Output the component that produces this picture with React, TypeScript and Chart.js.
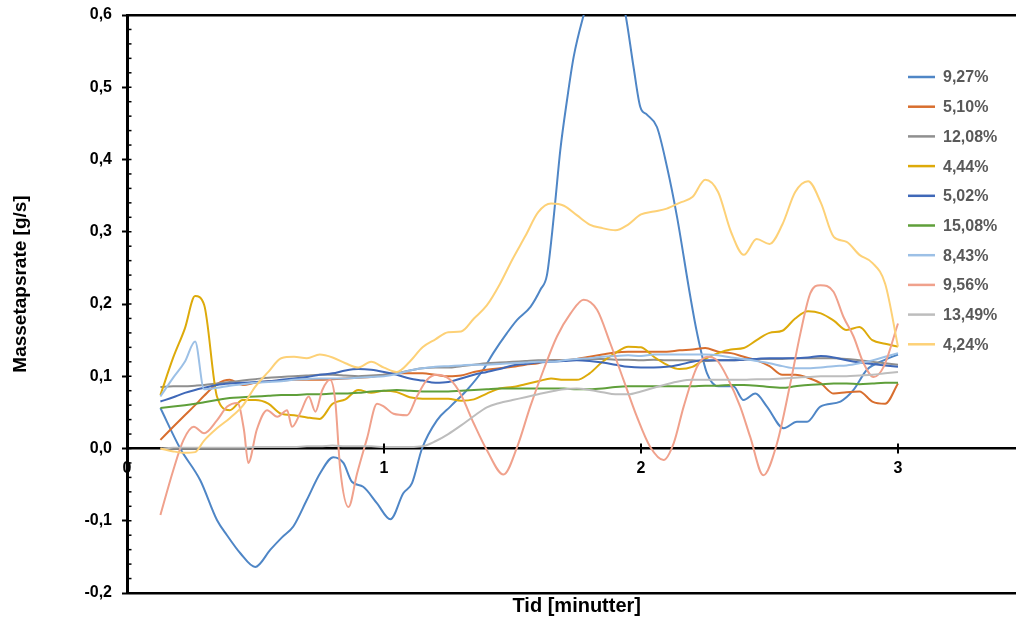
import React, { useEffect, useRef } from 'react';
import { Chart, registerables } from 'chart.js';

Chart.register(...registerables);

const FONT = "'Liberation Sans', Arial, Helvetica, sans-serif";

// shared time grid (minutes)
const TIME = [
  0.13, 0.18, 0.225, 0.265, 0.3, 0.35, 0.4, 0.45, 0.5, 0.55, 0.6,
  0.65, 0.7, 0.75, 0.8, 0.85, 0.9, 0.95, 1.0, 1.05, 1.1,
  1.15, 1.2, 1.25, 1.3, 1.35, 1.4, 1.45, 1.5, 1.55, 1.6,
  1.65, 1.7, 1.75, 1.8, 1.85, 1.9, 1.95, 2.0, 2.05, 2.1,
  2.15, 2.2, 2.25, 2.3, 2.35, 2.4, 2.45, 2.5, 2.55, 2.6,
  2.65, 2.7, 2.75, 2.8, 2.85, 2.9, 2.95, 3.0,
];

// 9,27 % has its own, denser sampling
const BLUE_TIME = [
  0.13, 0.207, 0.285, 0.35, 0.389, 0.441, 0.499, 0.558, 0.603, 0.647,
  0.7, 0.752, 0.803, 0.842, 0.875, 0.919, 0.973, 1.025, 1.075, 1.109,
  1.148, 1.206, 1.258, 1.323, 1.386, 1.425, 1.479, 1.518, 1.57, 1.609,
  1.634, 1.654, 1.667, 1.686, 1.712, 1.738, 1.777, 1.82, 1.86, 1.9,
  1.94, 1.971, 1.997, 2.023, 2.062, 2.101, 2.14, 2.192, 2.218, 2.257,
  2.302, 2.359, 2.399, 2.445, 2.49, 2.555, 2.607, 2.646, 2.698, 2.776,
  2.827, 2.879, 2.944, 3.0,
];
const S_9_27 = [
  0.056, 0.0, -0.044, -0.099, -0.12, -0.145, -0.164, -0.14, -0.123, -0.108,
  -0.071, -0.034, -0.012, -0.02, -0.046, -0.053, -0.076, -0.098, -0.062, -0.048,
  0.0, 0.039, 0.058, 0.081, 0.109, 0.132, 0.16, 0.178, 0.196, 0.22,
  0.24, 0.298, 0.344, 0.413, 0.482, 0.542, 0.6, 0.65, 0.672, 0.658,
  0.6, 0.528, 0.473, 0.462, 0.445, 0.39, 0.321, 0.21, 0.16, 0.104,
  0.086, 0.086, 0.067, 0.076, 0.058, 0.028, 0.037, 0.037, 0.058, 0.065,
  0.081, 0.109, 0.122, 0.13,
];

const S_5_10 = [
  0.012, 0.03, 0.046, 0.06, 0.073, 0.089, 0.095, 0.088, 0.091, 0.093, 0.094,
  0.095, 0.095, 0.095, 0.096, 0.097, 0.098, 0.099, 0.102, 0.104, 0.104,
  0.104, 0.102, 0.1, 0.101, 0.106, 0.109, 0.111, 0.113, 0.116, 0.118,
  0.122, 0.122, 0.124, 0.127, 0.13, 0.133, 0.134, 0.134, 0.134, 0.134,
  0.136, 0.137, 0.139, 0.134, 0.132, 0.127, 0.122, 0.114, 0.102, 0.102,
  0.098, 0.09, 0.076, 0.078, 0.079, 0.065, 0.062, 0.09,
];

const S_12_08 = [
  0.085, 0.086, 0.086, 0.087, 0.088, 0.09, 0.092, 0.094, 0.096, 0.098, 0.099,
  0.1, 0.101, 0.102, 0.102, 0.101, 0.1, 0.101, 0.102, 0.104, 0.108,
  0.111, 0.112, 0.112, 0.114, 0.116, 0.118, 0.119, 0.12, 0.121, 0.122,
  0.122, 0.122, 0.123, 0.124, 0.124, 0.123, 0.123, 0.122, 0.123, 0.122,
  0.122, 0.122, 0.121, 0.122, 0.122, 0.123, 0.124, 0.124, 0.124, 0.125,
  0.125, 0.125, 0.125, 0.124, 0.122, 0.12, 0.118, 0.116,
];

const S_4_44 = [
  0.074, 0.126, 0.166, 0.211, 0.199, 0.072, 0.053, 0.067, 0.067, 0.062, 0.048,
  0.046, 0.043, 0.041, 0.062, 0.068, 0.081, 0.077, 0.08, 0.078, 0.071,
  0.069, 0.069, 0.069, 0.066, 0.068, 0.076, 0.083, 0.085, 0.089, 0.093,
  0.097, 0.095, 0.095, 0.104, 0.12, 0.132, 0.141, 0.14, 0.127, 0.116,
  0.11, 0.113, 0.124, 0.132, 0.137, 0.139, 0.15, 0.16, 0.163, 0.18,
  0.19, 0.187, 0.177, 0.164, 0.168, 0.15, 0.145, 0.141,
];

const S_5_02 = [
  0.065, 0.071, 0.077, 0.081, 0.084, 0.088, 0.09, 0.091, 0.092, 0.093, 0.095,
  0.097, 0.099, 0.102, 0.104, 0.108, 0.11, 0.109, 0.106, 0.102, 0.097,
  0.094, 0.091, 0.092, 0.097, 0.102, 0.106, 0.11, 0.115, 0.117, 0.119,
  0.12, 0.121, 0.122, 0.121, 0.119, 0.116, 0.113, 0.112, 0.112, 0.113,
  0.116, 0.12, 0.122, 0.122, 0.122, 0.123, 0.124, 0.125, 0.125, 0.125,
  0.126, 0.128, 0.126, 0.122, 0.119, 0.117, 0.115, 0.113,
];

const S_15_08 = [
  0.056, 0.058, 0.06, 0.062, 0.064, 0.067, 0.07, 0.071, 0.072, 0.073, 0.074,
  0.074, 0.075, 0.075, 0.076, 0.076, 0.077, 0.079, 0.08, 0.081, 0.08,
  0.079, 0.079, 0.079, 0.08, 0.081, 0.082, 0.083, 0.083, 0.083, 0.083,
  0.083, 0.083, 0.082, 0.082, 0.083, 0.085, 0.086, 0.086, 0.086, 0.086,
  0.086, 0.086, 0.087, 0.087, 0.088, 0.088, 0.087, 0.085, 0.084, 0.086,
  0.088, 0.089, 0.09, 0.09, 0.089, 0.09, 0.091, 0.091,
];

const S_8_43 = [
  0.072, 0.098, 0.12, 0.148, 0.082, 0.084, 0.087, 0.089, 0.091, 0.092, 0.093,
  0.095, 0.096, 0.097, 0.097, 0.097, 0.098, 0.099, 0.1, 0.103, 0.108,
  0.111, 0.113, 0.114, 0.115, 0.116, 0.116, 0.117, 0.118, 0.119, 0.12,
  0.12, 0.122, 0.124, 0.125, 0.127, 0.128, 0.129, 0.128, 0.13, 0.13,
  0.13, 0.13, 0.13, 0.129, 0.126, 0.124, 0.121, 0.118, 0.114, 0.111,
  0.111, 0.112, 0.114, 0.115, 0.118, 0.122, 0.127, 0.132,
];

// 9,56 % has its own, denser sampling
const SALMON_TIME = [
  0.13, 0.18, 0.22, 0.26, 0.3, 0.35, 0.39, 0.43, 0.455, 0.472,
  0.505, 0.545, 0.585, 0.623, 0.642, 0.674, 0.707, 0.733, 0.76, 0.79,
  0.81, 0.83, 0.862, 0.895, 0.934, 0.973, 1.0, 1.037, 1.09, 1.128,
  1.167, 1.206, 1.258, 1.297, 1.349, 1.4, 1.465, 1.518, 1.569, 1.621,
  1.673, 1.726, 1.777, 1.829, 1.88, 1.932, 1.984, 2.036, 2.088, 2.127,
  2.166, 2.218, 2.257, 2.296, 2.335, 2.386, 2.425, 2.476, 2.529, 2.581,
  2.62, 2.659, 2.698, 2.749, 2.788, 2.827, 2.866, 2.905, 2.944, 3.0,
];
const S_9_56 = [
  -0.092, -0.03, 0.012, 0.03, 0.021, 0.039, 0.058, 0.063, 0.026, -0.02,
  0.026, 0.053, 0.044, 0.053, 0.03, 0.049, 0.072, 0.051, 0.081, 0.095,
  0.067, -0.03, -0.081, -0.035, 0.014, 0.062, 0.058, 0.048, 0.046, 0.072,
  0.095, 0.102, 0.095, 0.076, 0.035, -0.002, -0.036, 0.002, 0.058, 0.109,
  0.155, 0.187, 0.206, 0.192, 0.146, 0.095, 0.044, 0.002, -0.016, 0.007,
  0.058, 0.113, 0.127, 0.122, 0.099, 0.058, 0.016, -0.037, 0.007, 0.09,
  0.159, 0.215, 0.226, 0.217, 0.182, 0.155, 0.118, 0.099, 0.113, 0.173,
];

const S_13_49 = [
  0.0, 0.001, 0.001, 0.001, 0.001, 0.001, 0.001, 0.001, 0.002, 0.002, 0.002,
  0.002, 0.003, 0.003, 0.004, 0.003, 0.003, 0.003, 0.002, 0.002, 0.002,
  0.003, 0.01, 0.02, 0.032, 0.045, 0.057, 0.063, 0.067, 0.071, 0.075,
  0.079, 0.082, 0.083, 0.081, 0.078, 0.075, 0.075, 0.079, 0.084, 0.089,
  0.093, 0.095, 0.095, 0.095, 0.095, 0.095, 0.096, 0.096, 0.097, 0.098,
  0.099, 0.1, 0.1, 0.1, 0.101, 0.102, 0.104, 0.106,
];

const S_4_24 = [
  0.0, -0.004, -0.006, -0.005, 0.011, 0.028, 0.042, 0.059, 0.086, 0.106, 0.125,
  0.127, 0.125, 0.13, 0.126, 0.118, 0.112, 0.12, 0.112, 0.106, 0.12,
  0.14, 0.151, 0.161, 0.162, 0.18, 0.198, 0.227, 0.262, 0.294, 0.327,
  0.339, 0.336, 0.323, 0.31, 0.305, 0.302, 0.31, 0.324, 0.328, 0.332,
  0.34, 0.348, 0.372, 0.355, 0.3, 0.268, 0.29, 0.283, 0.31, 0.355,
  0.37, 0.34, 0.293, 0.286, 0.268, 0.257, 0.228, 0.141,
];

const LABELS = ['9,27%', '5,10%', '12,08%', '4,44%', '5,02%', '15,08%', '8,43%', '9,56%', '13,49%', '4,24%'];
const COLORS = ['#4f86c6', '#d86e2e', '#8f8f8f', '#ddaa0a', '#3f68b8', '#5f9f3a', '#9cc0e6', '#f0a18c', '#bdbdbd', '#fdd177'];
const SERIES_TIME = [BLUE_TIME, TIME, TIME, TIME, TIME, TIME, TIME, SALMON_TIME, TIME, TIME];
const SERIES_VALUES = [S_9_27, S_5_10, S_12_08, S_4_44, S_5_02, S_15_08, S_8_43, S_9_56, S_13_49, S_4_24];

const X_MIN = 0;
const X_MAX = 3.5;
const X_TICK_MARKS = [1, 2, 3];
const Y_MIN = -0.2;
const Y_MAX = 0.6;
const Y_MINOR_STEP = 0.02;

const W = 1040;
const H = 621;

const decor = {
  id: 'decor',
  afterDraw(chart: any) {
    const { ctx, chartArea, scales } = chart;
    const ys = scales.y;
    const xs = scales.x;
    ctx.save();
    // minor ticks on the inside of the y axis
    ctx.strokeStyle = '#000';
    ctx.lineWidth = 1.5;
    const n = Math.round((Y_MAX - Y_MIN) / Y_MINOR_STEP);
    for (let i = 0; i <= n; i++) {
      const py = ys.getPixelForValue(Y_MIN + i * Y_MINOR_STEP);
      ctx.beginPath();
      ctx.moveTo(chartArea.left, py);
      ctx.lineTo(chartArea.left + 4.5, py);
      ctx.stroke();
    }
    // crossing tick marks on the zero axis
    const y0 = ys.getPixelForValue(0);
    ctx.lineWidth = 2;
    for (const t of X_TICK_MARKS) {
      const px = xs.getPixelForValue(t);
      ctx.beginPath();
      ctx.moveTo(px, y0 - 5);
      ctx.lineTo(px, y0 + 5);
      ctx.stroke();
    }
    // legend inside plot
    ctx.font = `bold 16px ${FONT}`;
    ctx.textBaseline = 'middle';
    ctx.textAlign = 'left';
    chart.data.datasets.forEach((ds: any, i: number) => {
      const ly = 77 + i * 29.7;
      ctx.strokeStyle = ds.borderColor;
      ctx.lineWidth = 2.5;
      ctx.beginPath();
      ctx.moveTo(908, ly);
      ctx.lineTo(935, ly);
      ctx.stroke();
      ctx.fillStyle = '#595959';
      ctx.fillText(ds.label, 943, ly + 1);
    });
    // y axis title
    ctx.translate(21, 284);
    ctx.rotate(-Math.PI / 2);
    ctx.textAlign = 'center';
    ctx.fillStyle = '#000';
    ctx.font = `bold 19px ${FONT}`;
    ctx.fillText('Massetapsrate [g/s]', 0, 0);
    ctx.restore();
  },
};

export default function App() {
  const ref = useRef<HTMLCanvasElement>(null);

  useEffect(() => {
    const canvas = ref.current;
    if (!canvas) return;
    const datasets = LABELS.map((label, i) => ({
      label,
      data: SERIES_TIME[i].map((t, k) => ({ x: t, y: SERIES_VALUES[i][k] })),
      borderColor: COLORS[i],
      backgroundColor: COLORS[i],
      borderWidth: 2,
      pointRadius: 0,
      fill: false,
      cubicInterpolationMode: 'monotone' as const,
      order: LABELS.length - i,
    }));

    const tickFont = { family: FONT, size: 16, weight: 'bold' as const };

    const chart = new Chart(canvas, {
      type: 'line',
      data: { datasets },
      options: {
        animation: false,
        responsive: false,
        devicePixelRatio: 1,
        layout: { padding: { left: 0, top: 15, right: 13.5, bottom: 0 } },
        plugins: { legend: { display: false }, tooltip: { enabled: false } },
        scales: {
          x: {
            type: 'linear',
            position: { y: 0 } as any,
            min: X_MIN,
            max: X_MAX,
            ticks: {
              stepSize: 1,
              includeBounds: false,
              color: '#000',
              font: tickFont,
              padding: 10,
              maxRotation: 0,
              autoSkip: false,
            },
            grid: { display: false, drawTicks: false },
            border: { display: true, color: '#000', width: 2.5 },
            afterFit: (s: any) => { s.paddingLeft = 0; s.paddingRight = 0; s.paddingTop = 0; s.paddingBottom = 0; },
          },
          xb: {
            type: 'linear',
            position: 'bottom',
            min: X_MIN,
            max: X_MAX,
            ticks: { display: false },
            grid: { display: false, drawTicks: false },
            border: { display: true, color: '#000', width: 2.5 },
            title: {
              display: true,
              text: 'Tid [minutter]',
              color: '#000',
              font: { family: FONT, size: 20, weight: 'bold' },
              padding: { top: 0, bottom: 3 },
            },
            afterFit: (s: any) => { s.height = 28; s.paddingLeft = 0; s.paddingRight = 0; },
          },
          xt: {
            type: 'linear',
            position: 'top',
            min: X_MIN,
            max: X_MAX,
            ticks: { display: false },
            grid: { display: false, drawTicks: false },
            border: { display: true, color: '#000', width: 2.5 },
            afterFit: (s: any) => { s.height = 0; s.paddingLeft = 0; s.paddingRight = 0; },
          },
          y: {
            type: 'linear',
            min: Y_MIN,
            max: Y_MAX,
            ticks: {
              stepSize: 0.1,
              color: '#000',
              font: tickFont,
              padding: 10,
              callback: (v: any) => Number(v).toFixed(1).replace('.', ',').replace('-0,0', '0,0'),
            },
            grid: { drawOnChartArea: false, drawTicks: true, tickLength: 5, tickWidth: 2, tickColor: '#000' },
            border: { display: true, color: '#000', width: 3 },
            afterFit: (s: any) => { s.width = 127; s.paddingTop = 0; s.paddingBottom = 0; },
          },
        },
      },
      plugins: [decor],
    } as any);
    return () => chart.destroy();
  }, []);

  return (
    <div style={{ position: 'fixed', left: 0, top: 0, width: 1016, height: 621, overflow: 'hidden', background: '#fff' }}>
      <canvas ref={ref} width={W} height={H} style={{ display: 'block' }} />
    </div>
  );
}
